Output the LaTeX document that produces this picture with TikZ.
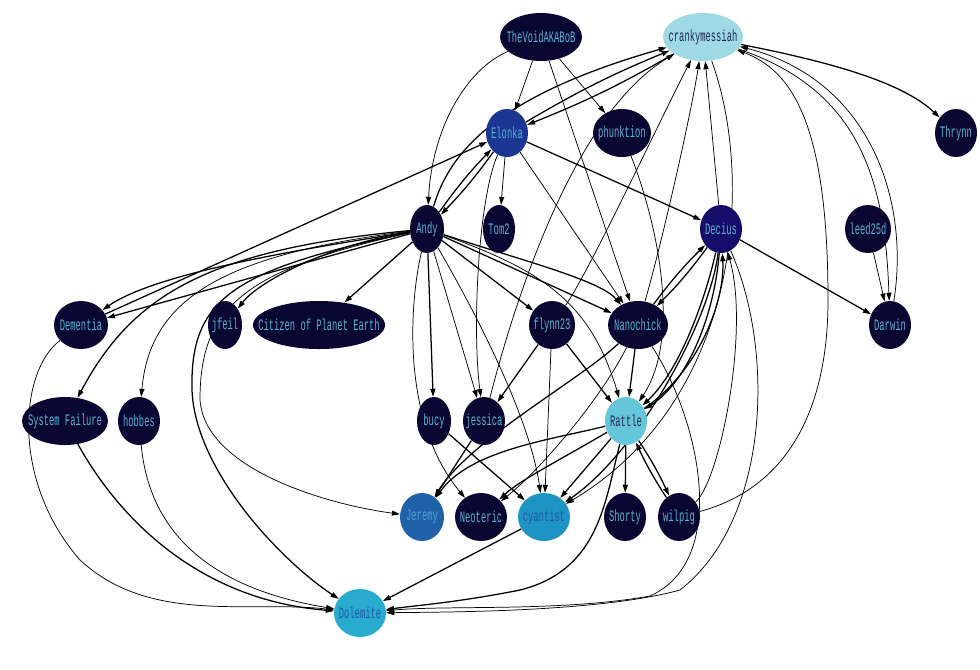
\documentclass[tikz,border=0pt]{standalone}
\usepackage{fontspec}
\usepackage{tikz}
\usepackage{xcolor}
\usetikzlibrary{shapes.geometric}
\usetikzlibrary{arrows.meta}
\usetikzlibrary{backgrounds}
\newfontfamily\whofont[FakeStretch=0.55]{Liberation Mono}
\newcommand\nick[1]{\makebox[0pt]{#1}}

\definecolor{nightfill}{HTML}{0B0733}
\definecolor{nighttext}{HTML}{58B4CF}
\definecolor{crankyfill}{HTML}{9FD9E4}
\definecolor{rattlefill}{HTML}{66C6D9}
\definecolor{paletext}{HTML}{1E2850}
\definecolor{elonkafill}{HTML}{1B3592}
\definecolor{deciusfill}{HTML}{150D6A}
\definecolor{jeremyfill}{HTML}{1F60A9}
\definecolor{cyanfill}{HTML}{1E94C4}
\definecolor{dolefill}{HTML}{29AACF}
\definecolor{bluetext}{HTML}{2358A8}

\begin{document}
\begin{tikzpicture}[x=0.75pt,y=-0.75pt,
        who/.style={ellipse,fill=nightfill,text=nighttext,minimum height=36pt,inner sep=0pt,font=\whofont\fontsize{12}{14}\selectfont},
        link/.style={-{Triangle[length=6pt,width=3.8pt]},line width=0.95pt},
        thin link/.style={-{Triangle[length=6pt,width=3.8pt]},line width=0.55pt}]
        \useasboundingbox (0,0) rectangle (980,669);

        % people
        \node[who,minimum width=61.5pt] (void) at (541,37) {\nick{TheVoidAKABoB}};
        \node[who,minimum width=60pt,fill=crankyfill,text=paletext] (cranky) at (703,37) {\nick{crankymessiah}};
        \node[who,minimum width=31.5pt,fill=elonkafill] (elonka) at (507,133) {\nick{Elonka}};
        \node[who,minimum width=43.5pt] (phunk) at (622,133) {\nick{phunktion}};
        \node[who,minimum width=31.5pt] (thrynn) at (956,133) {\nick{Thrynn}};
        \node[who,minimum width=25.5pt] (andy) at (427,229) {\nick{Andy}};
        \node[who,minimum width=24pt] (tom) at (499,229) {\nick{Tom2}};
        \node[who,minimum width=31.5pt,fill=deciusfill] (decius) at (721,229) {\nick{Decius}};
        \node[who,minimum width=34.5pt] (leed) at (868,229) {\nick{leed25d}};
        \node[who,minimum width=40.5pt] (dementia) at (81,325) {\nick{Dementia}};
        \node[who,minimum width=25.5pt] (jfeil) at (225,325) {\nick{jfeil}};
        \node[who,minimum width=99pt] (citizen) at (319,325) {\nick{Citizen of Planet Earth}};
        \node[who,minimum width=34.5pt] (flynn) at (552,325) {\nick{flynn23}};
        \node[who,minimum width=45pt] (nano) at (638,325) {\nick{Nanochick}};
        \node[who,minimum width=31.5pt] (darwin) at (890,325) {\nick{Darwin}};
        \node[who,minimum width=64.5pt] (sysfail) at (65,421) {\nick{System Failure}};
        \node[who,minimum width=31.5pt] (hobbes) at (139,421) {\nick{hobbes}};
        \node[who,minimum width=25.5pt] (bucy) at (434,421) {\nick{bucy}};
        \node[who,minimum width=31.5pt] (jessica) at (484,421) {\nick{jessica}};
        \node[who,minimum width=31.5pt,fill=rattlefill,text=paletext] (rattle) at (626,421) {\nick{Rattle}};
        \node[who,minimum width=33pt,fill=jeremyfill,text=nighttext!80!jeremyfill] (jeremy) at (422,517) {\nick{Jeremy}};
        \node[who,minimum width=39pt] (neoteric) at (481,517) {\nick{Neoteric}};
        \node[who,minimum width=39pt,fill=cyanfill,text=bluetext] (cyantist) at (544,517) {\nick{cyantist}};
        \node[who,minimum width=31.5pt] (shorty) at (625,517) {\nick{Shorty}};
        \node[who,minimum width=31.5pt] (wilpig) at (679,517) {\nick{wilpig}};
        \node[who,minimum width=39pt,fill=dolefill,text=bluetext] (dolemite) at (360,613) {\nick{Dolemite}};

        \begin{scope}[on background layer]
        % top rows
        \draw[thin link] (void) -- (elonka);
        \draw[thin link] (void) -- (phunk);
        \draw[thin link] (void) .. controls (465,70) and (432,130) .. (andy);
        \draw[thin link] (void) -- (nano);
        \draw[link] (andy) .. controls (450,150) and (500,95) .. (cranky);
        \draw[link] (elonka) to[bend left=4] (cranky);
        \draw[link] (cranky) to[bend left=4] (elonka);
        \draw[thin link] (jessica) .. controls (520,280) and (580,110) .. (cranky);
        \draw[thin link] (flynn) .. controls (590,270) and (660,120) .. (cranky);
        \draw[thin link] (nano) .. controls (660,250) and (690,120) .. (cranky);
        \draw[thin link] (decius) -- (cranky);
        \draw[thin link] (cranky) .. controls (755,180) and (740,400) .. (cyantist);
        \draw[link] (cranky) .. controls (820,60) and (900,80) .. (thrynn);
        \draw[thin link] (cranky) .. controls (860,90) and (885,180) .. (darwin);
        \draw[thin link] (darwin) .. controls (910,200) and (870,80) .. (cranky);
        \draw[thin link] (leed) -- (darwin);
        \draw[thin link] (wilpig) .. controls (780,490) and (828,420) .. (828,300)
            .. controls (828,120) and (790,70) .. (cranky);
        \draw[thin link] (elonka) -- (tom);
        \draw[link] (elonka) -- (decius);
        \draw[thin link] (elonka) -- (nano);
        \draw[thin link] (elonka) .. controls (478,200) and (472,330) .. (jessica);
        \draw[link] (andy) to[bend left=4] (elonka);
        \draw[link] (elonka) to[bend left=4] (andy);

        % Decius and Nanochick
        \draw[link] (decius) -- (darwin);
        \draw[link] (decius) to[bend left=4] (nano);
        \draw[link] (nano) to[bend left=4] (decius);
        \draw[link] (decius) .. controls (705,300) and (680,370) .. (rattle);
        \draw[link] (decius) .. controls (715,310) and (690,380) .. (rattle);
        \draw[link] (rattle) .. controls (700,370) and (725,300) .. (decius);
        \draw[thin link] (wilpig) .. controls (720,480) and (750,330) .. (decius);
        \draw[link] (decius) .. controls (710,320) and (640,450) .. (cyantist);
        \draw[thin link] (decius) .. controls (775,350) and (770,520) .. (680,590)
            .. controls (600,612) and (450,612) .. (dolemite);
        \draw[thin link] (nano) .. controls (700,420) and (730,560) .. (650,596)
            .. controls (560,612) and (450,605) .. (dolemite);
        \draw[link] (nano) -- (rattle);
        \draw[link] (nano) .. controls (580,380) and (470,440) .. (jeremy);
        \draw[thin link] (nano) .. controls (600,400) and (540,470) .. (neoteric);
        \draw[thin link] (phunk) .. controls (660,230) and (680,340) .. (rattle);

        % Andy
        \draw[link] (andy) -- (dementia);
        \draw[link] (andy) .. controls (330,245) and (160,270) .. (dementia);
        \draw[link] (dementia) -- (elonka);
        \draw[link] (andy) .. controls (200,250) and (130,300) .. (sysfail);
        \draw[thin link] (andy) .. controls (220,255) and (150,300) .. (hobbes);
        \draw[link] (andy) .. controls (330,245) and (260,280) .. (jfeil);
        \draw[link] (andy) -- (citizen);
        \draw[link] (andy) .. controls (230,270) and (190,300) .. (192,390)
            .. controls (195,470) and (280,560) .. (dolemite);
        \draw[thin link] (andy) .. controls (240,270) and (200,310) .. (200,400)
            .. controls (205,470) and (330,505) .. (jeremy);
        \draw[link] (andy) -- (bucy);
        \draw[thin link] (andy) -- (jessica);
        \draw[thin link] (andy) .. controls (410,300) and (400,420) .. (neoteric);
        \draw[thin link] (andy) .. controls (480,320) and (530,420) .. (cyantist);
        \draw[link] (andy) -- (flynn);
        \draw[link] (andy) -- (nano);
        \draw[link] (andy) .. controls (520,260) and (600,280) .. (nano);
        \draw[thin link] (andy) .. controls (540,270) and (590,300) .. (rattle);

        % bottom rows
        \draw[link] (flynn) -- (jessica);
        \draw[link] (flynn) -- (rattle);
        \draw[thin link] (flynn) -- (cyantist);
        \draw[link] (bucy) -- (cyantist);
        \draw[link] (jessica) -- (jeremy);
        \draw[link] (rattle) .. controls (550,440) and (470,450) .. (jeremy);
        \draw[link] (rattle) .. controls (560,460) and (520,480) .. (neoteric);
        \draw[link] (rattle) -- (cyantist);
        \draw[link] (rattle) -- (shorty);
        \draw[link] (rattle) to[bend left=4] (wilpig);
        \draw[link] (wilpig) to[bend left=4] (rattle);
        \draw[link] (rattle) .. controls (605,500) and (600,570) .. (520,590)
            .. controls (460,602) and (420,605) .. (dolemite);
        \draw[link] (cyantist) -- (dolemite);
        \draw[thin link] (dementia) .. controls (20,370) and (10,480) .. (80,560)
            .. controls (150,625) and (250,600) .. (dolemite);
        \draw[link] (sysfail) .. controls (120,520) and (200,600) .. (dolemite);
        \draw[thin link] (hobbes) .. controls (150,540) and (220,590) .. (dolemite);
        \end{scope}
    \end{tikzpicture}
\end{document}
